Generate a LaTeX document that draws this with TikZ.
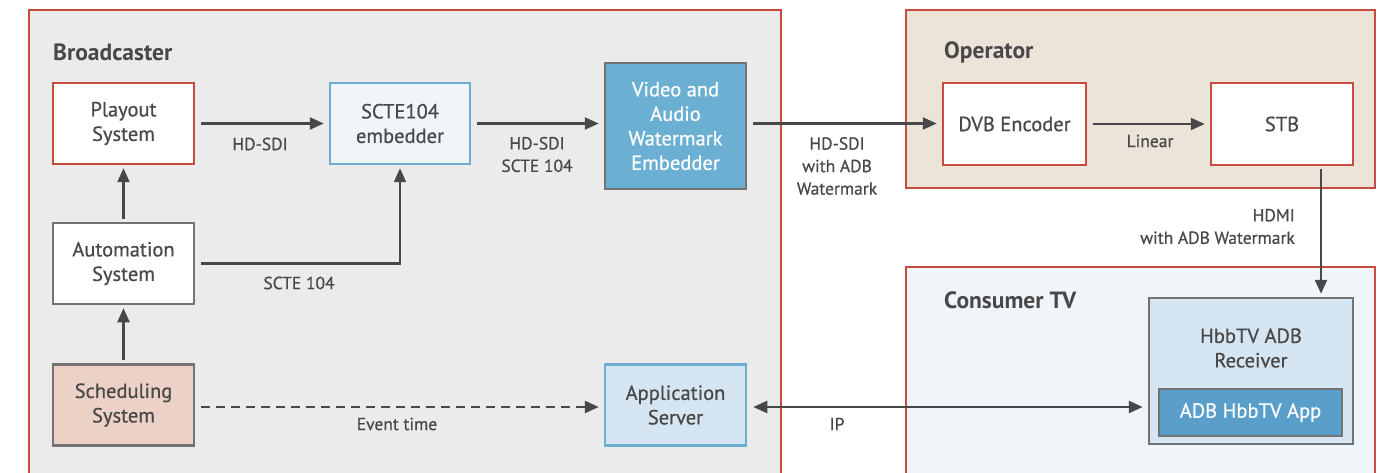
\documentclass[tikz,border=0pt]{standalone}
\usepackage{fontspec}
\setmainfont{PT Sans}[UprightFeatures={RawFeature={embolden=0.6}}]
\usetikzlibrary{arrows.meta,calc}
\definecolor{cred}{HTML}{C94A3F}
\definecolor{cgray}{HTML}{737373}
\definecolor{cblue}{HTML}{6AAFD0}
\definecolor{ctext}{HTML}{484848}
\definecolor{fbroad}{HTML}{EBEBEB}
\definecolor{foper}{HTML}{ECE3D9}
\definecolor{fcons}{HTML}{F0F5FA}
\definecolor{fvaw}{HTML}{6BAFD2}
\definecolor{fapp}{HTML}{D5E6F2}
\definecolor{fsched}{HTML}{ECD2C6}
\definecolor{fhapp}{HTML}{5A9FC9}
\tikzset{
  region/.style={draw=cred, line width=2.5pt},
  box/.style={draw, line width=2.5pt, align=center, text=ctext, font=\fontsize{20.5}{24.5}\selectfont, inner sep=0pt},
  redbox/.style={box, draw=cred, fill=white},
  graybox/.style={box, draw=cgray},
  bluebox/.style={box, draw=cblue},
  title/.style={anchor=west, text=ctext, font=\fontsize{23.5}{26}\selectfont\bfseries, inner sep=0pt},
  lab/.style={text=ctext, align=center, font=\fontsize{17.5}{22.5}\selectfont, inner sep=0pt},
  arr/.style={draw=ctext, line width=2.4pt, -{Triangle[length=14pt,width=12pt]}, shorten >=5pt, shorten <=6pt},
}
\begin{document}
\begin{tikzpicture}[x=1pt,y=-1pt]
\useasboundingbox (0,0) rectangle (1379,473);
\fill[white] (0,0) rectangle (1379,473);
% regions
\draw[region, fill=fbroad] (29,10) rectangle (781,500);
\draw[region, fill=foper] (906,10) rectangle (1375,188);
\draw[region, fill=fcons] (906,267) rectangle (1375,500);
\node[title] (tb) at (53,52) {Broadcaster};
\node[title] (to) at (944,52) {Operator};
\node[title] (tc) at (944,300) {Consumer TV};
% nodes
\node[redbox, minimum width=141pt, minimum height=81pt] (play) at (123.5,123.5) {Playout\\System};
\node[bluebox, fill=fcons, minimum width=140pt, minimum height=81pt] (scte) at (400,123.5) {SCTE104\\embedder};
\node[graybox, fill=fvaw, text=white, minimum width=141pt, minimum height=126pt] (vaw) at (675.5,126) {Video and\\Audio\\Watermark\\Embedder};
\node[graybox, fill=white, minimum width=141pt, minimum height=81pt] (auto) at (123.5,263.5) {Automation\\System};
\node[graybox, fill=fsched, minimum width=141pt, minimum height=81pt] (sched) at (123.5,405) {Scheduling\\System};
\node[bluebox, fill=fapp, minimum width=141pt, minimum height=81pt] (as) at (675.5,405) {Application\\Server};
\node[redbox, minimum width=143pt, minimum height=82pt] (dvb) at (1014.5,124) {DVB Encoder};
\node[redbox, minimum width=142pt, minimum height=82pt] (stb) at (1282,124) {STB};
\node[graybox, fill=fapp, minimum width=204pt, minimum height=146pt] (rec) at (1251,371) {};
\node[text=ctext, align=center, font=\fontsize{20.5}{24.5}\selectfont, inner sep=0pt] (rect) at (1251,348) {HbbTV ADB\\Receiver};
\node[graybox, fill=fhapp, text=white, minimum width=183pt, minimum height=47pt] (happ) at (1250.5,412.5) {ADB HbbTV App};
% connectors
\draw[arr] (play) -- (scte);
\draw[arr] (scte) -- (vaw.west |- scte.east);
\draw[arr] (vaw.east |- scte.east) -- (dvb.west |- scte.east);
\draw[arr] (dvb) -- (stb);
\draw[arr, shorten <=3pt, shorten >=3pt] (auto) -- (play);
\draw[arr, shorten <=3pt, shorten >=3pt] (sched) -- (auto);
\draw[arr, shorten >=3pt] (auto.east) -| (scte.south);
\draw[arr, dashed, dash pattern=on 9pt off 6pt] (sched.east |- 0,407) -- (as.west |- 0,407);
\draw[arr, {Triangle[length=14pt,width=12pt]}-{Triangle[length=14pt,width=12pt]}, shorten <=6pt] (as.east |- 0,407) -- (rec.west |- 0,407);
\coordinate (hx) at (1321,0);
\draw[arr, shorten <=3pt, shorten >=3pt] (hx |- stb.south) -- (hx |- rec.north);
% labels
\node[lab] (l1) at (260,144) {HD-SDI};
\node[lab] (l2) at (537,154.5) {HD-SDI\\SCTE 104};
\node[lab] (l3) at (837,166) {HD-SDI\\with ADB\\Watermark};
\node[lab] (l4) at (1150,141) {Linear};
\node[lab, align=right, anchor=east] (l5) at (1295,226.5) {HDMI\\with ADB Watermark};
\node[lab] (l6) at (299,283) {SCTE 104};
\node[lab] (l7) at (397,424) {Event time};
\node[lab] (l8) at (837,424) {IP};
\end{tikzpicture}
\end{document}
